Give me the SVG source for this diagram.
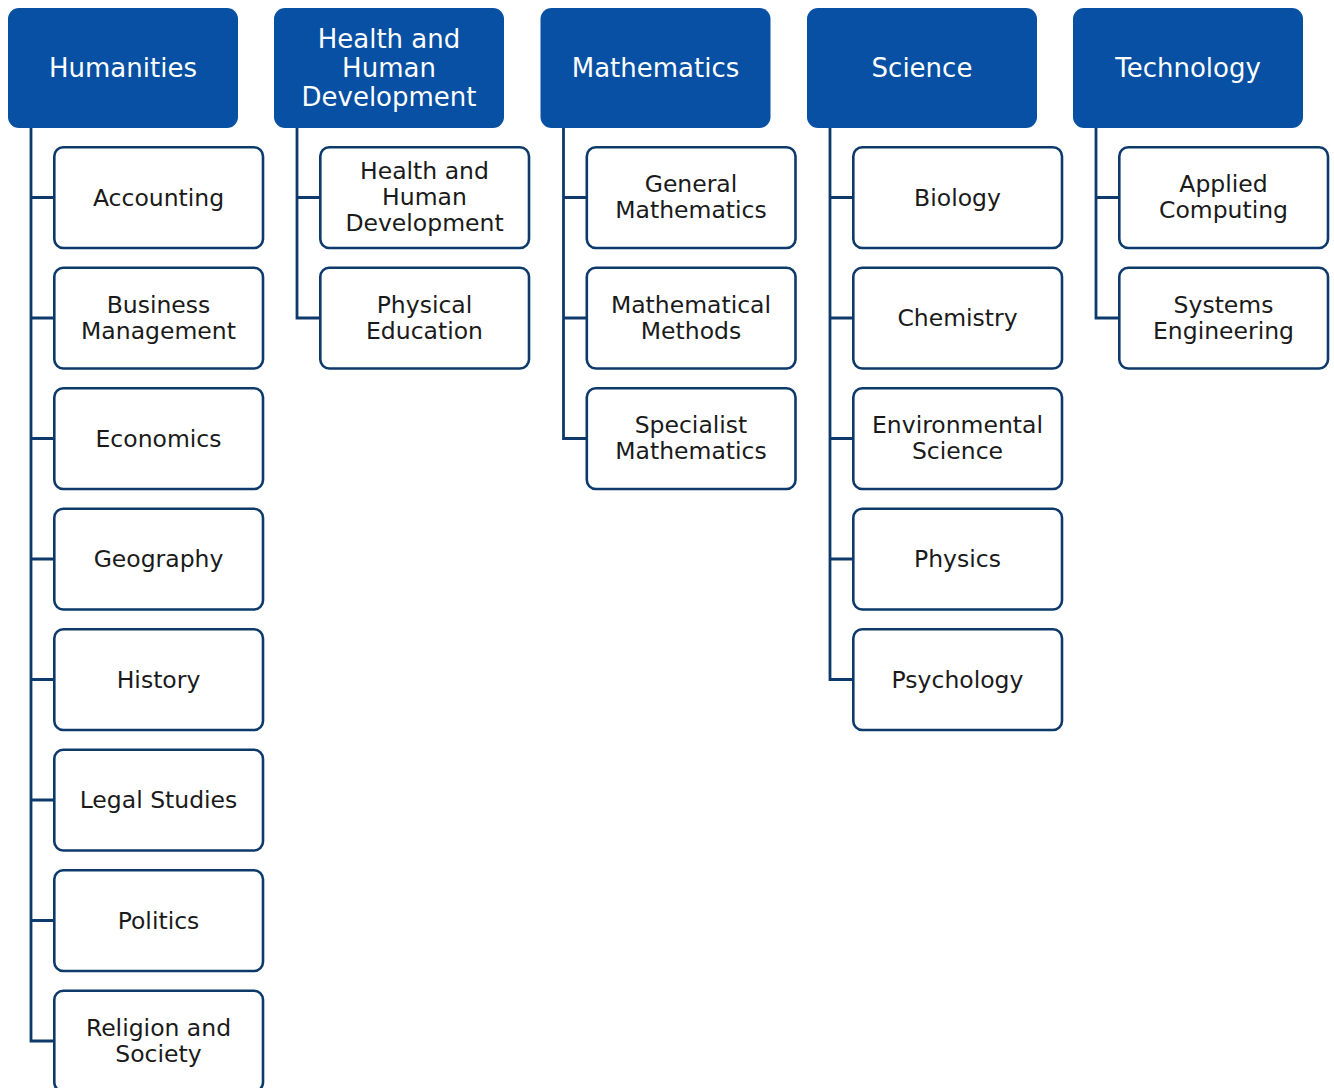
<svg xmlns="http://www.w3.org/2000/svg" width="1334" height="1088" viewBox="0 0 1334 1088">
<style>
.hd{fill:#0750a3}
.ht{fill:#ffffff;font-family:"DejaVu Sans",sans-serif;font-size:26px;text-anchor:middle;dominant-baseline:central}
.cb{fill:#ffffff;stroke:#0d3a6b;stroke-width:2.6}
.ct{fill:#1a1a1a;font-family:"DejaVu Sans",sans-serif;font-size:23.5px;text-anchor:middle;dominant-baseline:central}
.ln{fill:none;stroke:#0d3a6b;stroke-width:2.8}
</style>
<rect width="1334" height="1088" fill="#ffffff"/>
<g id="connectors">
<path class="ln" d="M31 128 V1041 H54 M31 197.5 H54 M31 318 H54 M31 438.5 H54 M31 559 H54 M31 679.5 H54 M31 800 H54 M31 920.5 H54"/>
<path class="ln" d="M297 128 V318 H320 M297 197.5 H320"/>
<path class="ln" d="M563.5 128 V438.5 H586.5 M563.5 197.5 H586.5 M563.5 318 H586.5"/>
<path class="ln" d="M830 128 V679.5 H853 M830 197.5 H853 M830 318 H853 M830 438.5 H853 M830 559 H853"/>
<path class="ln" d="M1096 128 V318 H1119 M1096 197.5 H1119"/>
</g>
<g id="humanities"><rect class="hd" x="8" y="8" width="230" height="120" rx="11"/><text class="ht" x="123" y="68">Humanities</text></g>
<g id="hhd"><rect class="hd" x="274" y="8" width="230" height="120" rx="11"/><text class="ht" x="389" y="39">Health and</text><text class="ht" x="389" y="68">Human</text><text class="ht" x="389" y="97">Development</text></g>
<g id="mathematics"><rect class="hd" x="540.5" y="8" width="230" height="120" rx="11"/><text class="ht" x="655.5" y="68">Mathematics</text></g>
<g id="science"><rect class="hd" x="807" y="8" width="230" height="120" rx="11"/><text class="ht" x="922" y="68">Science</text></g>
<g id="technology"><rect class="hd" x="1073" y="8" width="230" height="120" rx="11"/><text class="ht" x="1188" y="68">Technology</text></g>

<g id="accounting"><rect class="cb" x="54.3" y="147.3" width="208.7" height="100.7" rx="9"/><text class="ct" x="158.5" y="197.5">Accounting</text></g>
<g id="business"><rect class="cb" x="54.3" y="267.8" width="208.7" height="100.7" rx="9"/><text class="ct" x="158.5" y="305">Business</text><text class="ct" x="158.5" y="331">Management</text></g>
<g id="economics"><rect class="cb" x="54.3" y="388.3" width="208.7" height="100.7" rx="9"/><text class="ct" x="158.5" y="438.5">Economics</text></g>
<g id="geography"><rect class="cb" x="54.3" y="508.8" width="208.7" height="100.7" rx="9"/><text class="ct" x="158.5" y="559">Geography</text></g>
<g id="history"><rect class="cb" x="54.3" y="629.3" width="208.7" height="100.7" rx="9"/><text class="ct" x="158.5" y="679.5">History</text></g>
<g id="legal"><rect class="cb" x="54.3" y="749.8" width="208.7" height="100.7" rx="9"/><text class="ct" x="158.5" y="800">Legal Studies</text></g>
<g id="politics"><rect class="cb" x="54.3" y="870.3" width="208.7" height="100.7" rx="9"/><text class="ct" x="158.5" y="920.5">Politics</text></g>
<g id="religion"><rect class="cb" x="54.3" y="990.8" width="208.7" height="100.7" rx="9"/><text class="ct" x="158.5" y="1028">Religion and</text><text class="ct" x="158.5" y="1054">Society</text></g>

<g id="hhd-child"><rect class="cb" x="320.3" y="147.3" width="208.7" height="100.7" rx="9"/><text class="ct" x="424.5" y="171">Health and</text><text class="ct" x="424.5" y="197">Human</text><text class="ct" x="424.5" y="223">Development</text></g>
<g id="pe"><rect class="cb" x="320.3" y="267.8" width="208.7" height="100.7" rx="9"/><text class="ct" x="424.5" y="305">Physical</text><text class="ct" x="424.5" y="331">Education</text></g>

<g id="general-maths"><rect class="cb" x="586.8" y="147.3" width="208.7" height="100.7" rx="9"/><text class="ct" x="691" y="184">General</text><text class="ct" x="691" y="210">Mathematics</text></g>
<g id="methods"><rect class="cb" x="586.8" y="267.8" width="208.7" height="100.7" rx="9"/><text class="ct" x="691" y="305">Mathematical</text><text class="ct" x="691" y="331">Methods</text></g>
<g id="specialist"><rect class="cb" x="586.8" y="388.3" width="208.7" height="100.7" rx="9"/><text class="ct" x="691" y="425">Specialist</text><text class="ct" x="691" y="451">Mathematics</text></g>

<g id="biology"><rect class="cb" x="853.3" y="147.3" width="208.7" height="100.7" rx="9"/><text class="ct" x="957.5" y="197.5">Biology</text></g>
<g id="chemistry"><rect class="cb" x="853.3" y="267.8" width="208.7" height="100.7" rx="9"/><text class="ct" x="957.5" y="318">Chemistry</text></g>
<g id="envsci"><rect class="cb" x="853.3" y="388.3" width="208.7" height="100.7" rx="9"/><text class="ct" x="957.5" y="425">Environmental</text><text class="ct" x="957.5" y="451">Science</text></g>
<g id="physics"><rect class="cb" x="853.3" y="508.8" width="208.7" height="100.7" rx="9"/><text class="ct" x="957.5" y="559">Physics</text></g>
<g id="psychology"><rect class="cb" x="853.3" y="629.3" width="208.7" height="100.7" rx="9"/><text class="ct" x="957.5" y="679.5">Psychology</text></g>

<g id="applied"><rect class="cb" x="1119.3" y="147.3" width="208.7" height="100.7" rx="9"/><text class="ct" x="1223.5" y="184">Applied</text><text class="ct" x="1223.5" y="210">Computing</text></g>
<g id="systems"><rect class="cb" x="1119.3" y="267.8" width="208.7" height="100.7" rx="9"/><text class="ct" x="1223.5" y="305">Systems</text><text class="ct" x="1223.5" y="331">Engineering</text></g>
</svg>
